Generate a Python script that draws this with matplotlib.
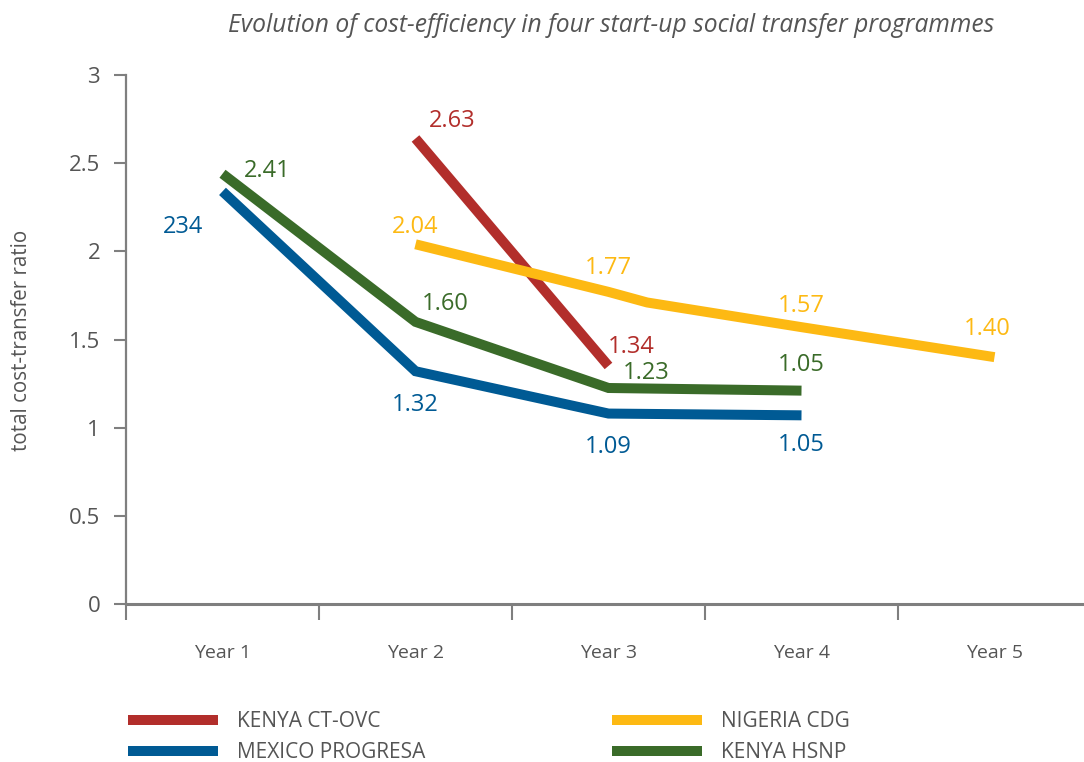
import matplotlib
matplotlib.use("Agg")
import matplotlib.pyplot as plt
from matplotlib.lines import Line2D

plt.rcParams['font.family'] = ['Open Sans', 'DejaVu Sans']

# categorias e valores
anos = ['Year 1', 'Year 2', 'Year 3', 'Year 4', 'Year 5']

ctovc_anos = [2, 3]
ctovc_vals = [2.64, 1.35]
ctovc_rotulos = ['2.63', '1.34']

nigeria_anos = [2, 3, 3.2, 4, 5]
nigeria_vals = [2.04, 1.77, 1.71, 1.57, 1.40]
nigeria_rotulos = ['2.04', '1.77', '', '1.57', '1.40']

hsnp_anos = [1, 2, 3, 4]
hsnp_vals = [2.44, 1.60, 1.225, 1.21]
hsnp_rotulos = ['2.41', '1.60', '1.23', '1.05']

mexico_anos = [1, 2, 3, 4]
mexico_vals = [2.34, 1.32, 1.08, 1.07]
mexico_rotulos = ['234', '1.32', '1.09', '1.05']

VERMELHO = '#B22E2B'
AMARELO = '#FDB913'
VERDE = '#3A6B29'
AZUL = '#005A94'
CINZA = '#7f7f7f'
TEXTO = '#555555'

# deslocamentos dos rótulos (pixels)
off_ctovc = [(37, 17), (23, 19)]
off_nigeria = [(0, 17), (0, 24), None, (0, 21), (-7, 28)]
off_hsnp = [(45, 3), (30, 18), (38, 15), (0, 26)]
off_mexico = [(-39, -36), (0, -34), (0, -33), (0, -30)]


def main():
    fig = plt.figure(figsize=(10.84, 7.62), dpi=100)
    ax = fig.add_axes([126 / 1084, 1 - 604 / 762, 965 / 1084, 529 / 762])

    series = [
        (ctovc_anos, ctovc_vals, ctovc_rotulos, off_ctovc, VERMELHO),
        (nigeria_anos, nigeria_vals, nigeria_rotulos, off_nigeria, AMARELO),
        (hsnp_anos, hsnp_vals, hsnp_rotulos, off_hsnp, VERDE),
        (mexico_anos, mexico_vals, mexico_rotulos, off_mexico, AZUL),
    ]
    for xs, ys, rots, offs, cor in series:
        xp = [x - 0.5 for x in xs]
        ax.plot(xp, ys, color=cor, linewidth=7.2, solid_capstyle='butt',
                solid_joinstyle='miter', clip_on=False)
        for x, y, r, o in zip(xp, ys, rots, offs):
            if not r:
                continue
            ax.annotate(r, (x, y), xytext=o, textcoords='offset pixels',
                        ha='center', va='center', color=cor, fontsize=17)

    ax.set_xlim(0, 5)
    ax.set_ylim(0, 3)

    ax.set_xticks(range(6))
    ax.set_xticklabels([])
    ax.set_xticks([i + 0.5 for i in range(5)], minor=True)
    ax.set_xticklabels(anos, minor=True)
    ax.tick_params(axis='x', which='major', length=11.5, width=1.5, color=CINZA)
    ax.tick_params(axis='x', which='minor', length=0, pad=29, labelsize=14,
                   labelcolor=TEXTO)

    ax.set_yticks([0, 0.5, 1, 1.5, 2, 2.5, 3])
    ax.set_yticklabels(['0', '0.5', '1', '1.5', '2', '2.5', '3'])
    ax.tick_params(axis='y', length=8.6, width=1.5, color=CINZA, pad=10,
                   labelsize=16, labelcolor=TEXTO)

    for s in ['top', 'right']:
        ax.spines[s].set_visible(False)
    ax.spines['left'].set_color(CINZA)
    ax.spines['left'].set_linewidth(1.6)
    ax.spines['bottom'].set_color(CINZA)
    ax.spines['bottom'].set_linewidth(2.2)

    fig.text(611 / 1084, 1 - 26 / 762,
             'Evolution of cost-efficiency in four start-up social transfer programmes',
             ha='center', va='center', style='italic', fontsize=17.7, color=TEXTO)
    fig.text(22 / 1084, 1 - 340 / 762, 'total cost-transfer ratio', rotation=90,
             ha='center', va='center', fontsize=14.8, color=TEXTO)

    def legenda(itens, x_px):
        handles = [Line2D([0], [0], color=c, linewidth=7.2, solid_capstyle='butt')
                   for _, c in itens]
        lg = fig.legend(handles, [n for n, _ in itens], loc='upper left',
                        bbox_to_anchor=(x_px / 1084, 1 - 711 / 762),
                        frameon=False, borderaxespad=0, borderpad=0,
                        handlelength=4.3, handletextpad=0.95, labelspacing=0.5,
                        fontsize=15, labelcolor=TEXTO)
        return lg

    legenda([('KENYA CT-OVC', VERMELHO), ('MEXICO PROGRESA', AZUL)], 128)
    legenda([('NIGERIA CDG', AMARELO), ('KENYA HSNP', VERDE)], 612)

    fig.savefig('out.png', dpi=100)


if __name__ == "__main__":
    main()
